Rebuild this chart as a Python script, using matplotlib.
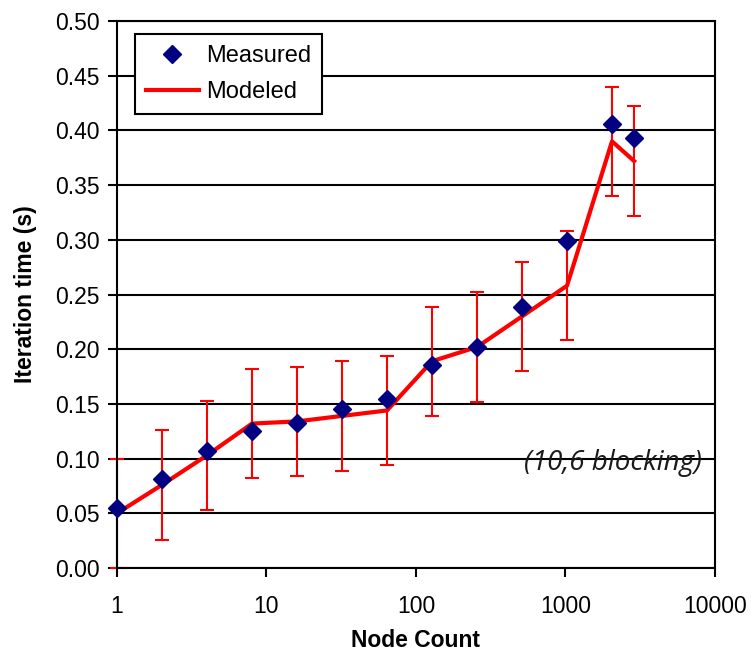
import matplotlib
matplotlib.use("Agg")
import matplotlib.pyplot as plt

node_counts = [1, 2, 4, 8, 16, 32, 64, 128, 256, 512, 1024, 2048, 2880]
measured = [0.055, 0.081, 0.107, 0.125, 0.1325, 0.145, 0.1545, 0.186, 0.202, 0.239, 0.299, 0.406, 0.393]
modeled = [0.050, 0.076, 0.103, 0.132, 0.134, 0.139, 0.144, 0.189, 0.202, 0.230, 0.258, 0.390, 0.372]
model_err = [0.05, 0.05, 0.05, 0.05, 0.05, 0.05, 0.05, 0.05, 0.05, 0.05, 0.05, 0.05, 0.05]
y_ticks = [0.00, 0.05, 0.10, 0.15, 0.20, 0.25, 0.30, 0.35, 0.40, 0.45, 0.50]
x_ticks = [1, 10, 100, 1000, 10000]
x_tick_labels = ["1", "10", "100", "1000", "10000"]

plt.rcParams['font.family'] = ['Liberation Sans', 'DejaVu Sans']

fig = plt.figure(figsize=(7.51, 6.53), dpi=100)
ax = fig.add_axes([0.1558, 0.1302, 0.7962, 0.8376])

ax.set_xscale('log')
ax.set_xlim(1, 10000)
ax.set_ylim(0, 0.5)

for yv in y_ticks:
    ax.axhline(yv, color='black', lw=1.5, zorder=1)

eb = ax.errorbar(node_counts, modeled, yerr=model_err, fmt='none', ecolor='#ff0000',
                 elinewidth=1.5, capsize=5, capthick=1.5, zorder=2)
for artist in eb.lines[1] + eb.lines[2]:
    artist.set_clip_on(False)
ax.plot(node_counts, modeled, color='#ff0000', lw=3.0, label='Modeled', zorder=3,
        clip_on=False)
ax.plot(node_counts, measured, linestyle='none', marker='D', ms=9,
        color='#000080', label='Measured', zorder=4, clip_on=False)

ax.set_yticks(y_ticks)
ax.set_yticklabels([f"{v:.2f}" for v in y_ticks])
ax.set_xticks(x_ticks)
ax.set_xticklabels(x_tick_labels)
ax.xaxis.set_minor_locator(matplotlib.ticker.NullLocator())
ax.tick_params(axis='both', direction='out', length=6.5, width=1.5, labelsize=16.5, colors='black')
ax.tick_params(axis='x', pad=13)
ax.tick_params(axis='y', pad=6)
for s in ax.spines.values():
    s.set_linewidth(1.5)
    s.set_color('black')

ax.set_xlabel('Node Count', fontsize=16.5, fontweight='bold', labelpad=8)
ax.set_ylabel('Iteration time (s)', fontsize=16.5, fontweight='bold', labelpad=13)

handles, labels = ax.get_legend_handles_labels()
leg = ax.legend([handles[1], handles[0]], [labels[1], labels[0]],
                loc='upper left', bbox_to_anchor=(0.030, 0.976), fontsize=17,
                frameon=True, fancybox=False, edgecolor='black', framealpha=1,
                handlelength=2.25, handletextpad=0.3, borderpad=0.45,
                labelspacing=0.6, borderaxespad=0)
leg.get_frame().set_linewidth(1.5)

ax.text(0.978, 0.096, '(10,6 blocking)', transform=ax.get_yaxis_transform(),
        fontsize=20, style='italic', ha='right', va='center',
        family=['Open Sans', 'DejaVu Sans'], color='#1a1a1a', zorder=5)

fig.savefig('out.png', dpi=100)
